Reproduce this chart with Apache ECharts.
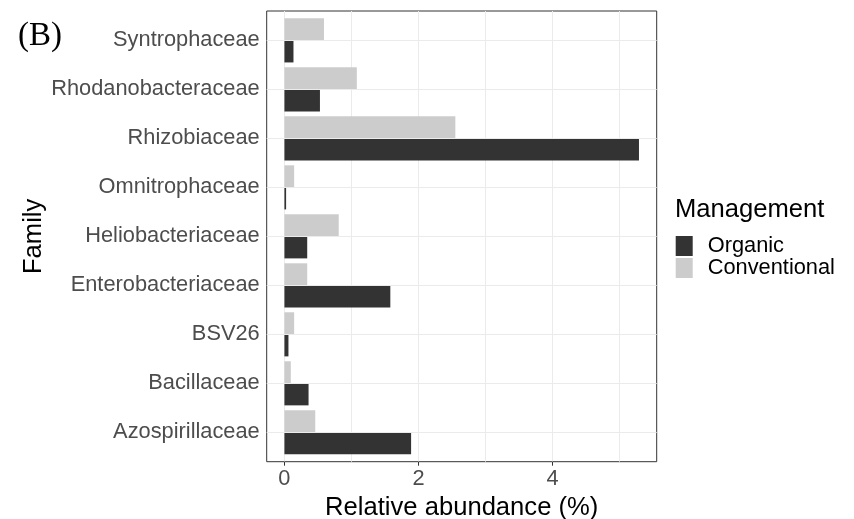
<!DOCTYPE html>
<html>
<head>
<meta charset="utf-8">
<script src="https://cdn.jsdelivr.net/npm/echarts@6/dist/echarts.min.js"></script>
<style>
  html, body { margin: 0; padding: 0; background: #fff; }
  #chart { width: 854px; height: 519px; }
</style>
</head>
<body>
<div id="chart"></div>
<script>
// Families, listed bottom to top
const categories = [
  'Azospirillaceae', 'Bacillaceae', 'BSV26', 'Enterobacteriaceae',
  'Heliobacteriaceae', 'Omnitrophaceae', 'Rhizobiaceae',
  'Rhodanobacteraceae', 'Syntrophaceae'
];
// Relative abundance (%)
const organic      = [1.89, 0.36, 0.06, 1.58, 0.34, 0.025, 5.29, 0.53, 0.135];
const conventional = [0.46, 0.095, 0.145, 0.34, 0.81, 0.145, 2.55, 1.08, 0.59];
const xTickValues  = [0, 2, 4];            // labelled ticks
const xGridValues  = [0, 1, 2, 3, 4, 5];   // major + minor vertical grid lines

const FONT = 'Liberation Sans, Arial, sans-serif';

// Panel frame in pixels
const panel = { left: 266.7, right: 854 - 656.7, top: 11, bottom: 461.7 };
const panelH = panel.bottom - panel.top;
const n = categories.length;
const unit = panelH / (n + 0.2);          // discrete scale with 0.6 padding each end
const barsTop = panel.top + 0.1 * unit;
const barsH = n * unit;

// continuous scale expanded by 5% on both sides
const dataMax = Math.max(...organic, ...conventional);
const xMin = -0.05 * dataMax;
const xMax = dataMax * 1.05;

const chart = echarts.init(document.getElementById('chart'), null, { renderer: 'canvas' });

chart.setOption({
  animation: false,
  backgroundColor: '#ffffff',
  title: [
    { text: '(B)', left: 18, top: 20, padding: 0,
      textStyle: { fontFamily: 'Liberation Serif, Times New Roman, serif', fontSize: 33, fontWeight: 'normal', color: '#000' } },
    { text: 'Management', left: 675, top: 197, padding: 0,
      textStyle: { fontFamily: FONT, fontSize: 25.6, fontWeight: 'normal', color: '#000' } }
  ],
  legend: {
    data: ['Organic', 'Conventional'],
    orient: 'vertical',
    left: 675.7, top: 235,
    padding: 0,
    itemWidth: 17, itemHeight: 20, itemGap: 0,
    icon: 'rect',
    textStyle: { fontFamily: FONT, fontSize: 21.8, color: '#000', lineHeight: 20, padding: [0, 0, 0, 10] }
  },
  grid: [
    { left: panel.left, right: panel.right, top: panel.top, height: panelH,
      containLabel: false, outerBoundsMode: 'none',
      show: true, borderColor: '#333333', borderWidth: 1, backgroundColor: 'transparent' },
    { left: panel.left, right: panel.right, top: barsTop, height: barsH,
      containLabel: false, outerBoundsMode: 'none', show: false }
  ],
  xAxis: [
    {
      gridIndex: 0, type: 'value', min: xMin, max: xMax, position: 'bottom',
      name: 'Relative abundance (%)', nameLocation: 'middle', nameGap: 25,
      nameTextStyle: { fontFamily: FONT, fontSize: 25.6, color: '#000' },
      axisLine: { show: false },
      axisTick: { show: true, length: 4, lineStyle: { color: '#333333' }, customValues: xTickValues },
      axisLabel: { fontFamily: FONT, fontSize: 21.8, color: '#4D4D4D', margin: 6,
                   customValues: xTickValues },
      splitLine: { show: false }
    },
    {
      gridIndex: 1, type: 'value', min: xMin, max: xMax,
      show: false, splitLine: { show: false }
    },
    {
      // vertical grid lines across the whole panel
      gridIndex: 0, type: 'value', min: xMin, max: xMax, position: 'top',
      axisLine: { show: false },
      axisTick: { show: false, customValues: xGridValues },
      axisLabel: { show: false, customValues: xGridValues },
      splitLine: { show: true, lineStyle: { color: '#EBEBEB', width: 1 } }
    }
  ],
  yAxis: [
    {
      gridIndex: 0, type: 'value', min: 0, max: 1, show: false, splitLine: { show: false }
    },
    {
      gridIndex: 1, type: 'category', data: categories,
      name: 'Family', nameLocation: 'middle', nameGap: 218,
      nameTextStyle: { fontFamily: FONT, fontSize: 25.6, color: '#000' },
      axisLine: { show: false },
      axisTick: { show: true, alignWithLabel: true, length: 4, lineStyle: { color: '#333333' } },
      axisLabel: { fontFamily: FONT, fontSize: 21.8, color: '#4D4D4D', margin: 7 },
      splitLine: { show: false }
    }
  ],
  series: [
    {
      // horizontal grid lines at each family
      type: 'line', xAxisIndex: 1, yAxisIndex: 1, data: [], z: 1, silent: true,
      markLine: {
        silent: true, symbol: ['none', 'none'], label: { show: false },
        lineStyle: { color: '#EBEBEB', width: 1, type: 'solid' },
        emphasis: { disabled: true },
        data: categories.map(c => ({ yAxis: c }))
      }
    },
    {
      name: 'Conventional', type: 'bar', xAxisIndex: 1, yAxisIndex: 1, z: 3,
      data: conventional, barWidth: 0.45 * unit, barGap: '0%',
      itemStyle: { color: '#CCCCCC' }
    },
    {
      name: 'Organic', type: 'bar', xAxisIndex: 1, yAxisIndex: 1, z: 3,
      data: organic, barWidth: 0.45 * unit, barGap: '0%',
      itemStyle: { color: '#333333' }
    }
  ]
});
</script>
</body>
</html>
